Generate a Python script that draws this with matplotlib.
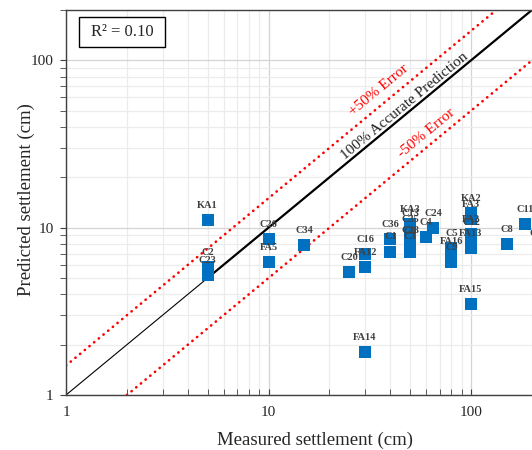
import matplotlib
matplotlib.use("Agg")
import matplotlib.pyplot as plt
import numpy as np
from matplotlib.patches import Rectangle
from matplotlib.ticker import FixedLocator, LogLocator, NullFormatter

# pile / case labels with measured and predicted settlement (cm)
names = [
    "KA1", "C2", "C23", "C26", "FA5", "C34", "C20", "C16", "FA12", "FA14",
    "C36", "C1", "KA3", "C13", "C35", "C6", "C28", "C3", "C4", "C24",
    "C5", "FA16", "C9", "KA2", "FA3", "FA2", "C12", "FA13", "FA15", "C8",
    "C11", "C10",
]
measured = [
    5, 5, 5, 10, 10, 15, 25, 30, 30, 30,
    40, 40, 50, 50, 50, 50, 50, 50, 60, 65,
    80, 80, 80, 100, 100, 100, 100, 100, 100, 150,
    185, 215,
]
predicted = [
    11.1, 5.8, 5.2, 8.5, 6.2, 7.9, 5.4, 7.0, 5.8, 1.8,
    8.6, 7.2, 10.5, 10.0, 9.2, 7.8, 7.9, 7.2, 8.8, 10.0,
    7.6, 6.8, 6.2, 12.2, 11.3, 9.2, 8.8, 7.6, 3.5, 8.0,
    10.5, 7.6,
]
r2_text = "R\u00b2 = 0.10"

serif = ["Liberation Serif", "DejaVu Serif"]
plt.rcParams["font.family"] = serif

W, H = 532, 450
fig = plt.figure(figsize=(W / 100, H / 100), dpi=100)
# axes run past the right edge, as in the cropped original
ax = fig.add_axes([66 / W, 55 / H, 607.5 / W, 385 / H])
ax.set_xscale("log")
ax.set_yscale("log")
ax.set_xlim(1, 1000)
ax.set_ylim(1, 200)

# grid
ax.grid(True, which="major", color="#d4d4d4", linewidth=0.9, zorder=0)
ax.grid(True, which="minor", color="#ececec", linewidth=0.9, zorder=0)
ax.set_axisbelow(True)

# reference lines
xx = np.array([1, 1000])
dotted = dict(color="red", linewidth=1.9, linestyle=(0, (0.1, 2.2)),
              dash_capstyle="round", zorder=2)
ax.plot([1, 5], [1, 5], color="black", linewidth=0.8, zorder=2)
ax.plot([5, 1000], [5, 1000], color="black", linewidth=1.6, zorder=2)
ax.plot(xx, 1.5 * xx, **dotted)
ax.plot(xx, 0.5 * xx, **dotted)

ang = np.degrees(np.arctan2(167.3, 202.5))
ax.text(35, 66, "+50% Error", color="red", fontsize=11, rotation=ang,
        ha="center", va="center", rotation_mode="anchor")
ax.text(47, 53.5, "100% Accurate Prediction", color="#222222", fontsize=11,
        rotation=ang, ha="center", va="center", rotation_mode="anchor")
ax.text(60.5, 36.5, "-50% Error", color="red", fontsize=11, rotation=ang,
        ha="center", va="center", rotation_mode="anchor")

# data
ax.scatter(measured, predicted, marker="s", s=74, color="#0070c0",
           linewidths=0, zorder=3, clip_on=False)
for n, mx, py in zip(names, measured, predicted):
    ax.annotate(n, (mx, py), xytext=(0, 10.5), textcoords="offset points",
                ha="center", va="center", fontsize=7.5, fontweight="bold",
                color="#404040", zorder=4)

# ticks
ax.xaxis.set_major_locator(FixedLocator([1, 10, 100]))
ax.yaxis.set_major_locator(FixedLocator([1, 10, 100]))
ax.xaxis.set_minor_locator(LogLocator(base=10, subs=np.arange(2, 10)))
ax.yaxis.set_minor_locator(LogLocator(base=10, subs=np.arange(2, 10)))
ax.xaxis.set_minor_formatter(NullFormatter())
ax.yaxis.set_minor_formatter(NullFormatter())
ax.set_xticklabels(["1", "10", "100"])
ax.set_yticklabels(["1", "10", "100"])
ax.tick_params(axis="x", which="both", direction="in", length=4,
               color="#404040", labelsize=11, labelcolor="#262626", pad=8)
ax.tick_params(axis="y", which="both", direction="out", length=4,
               color="#404040", labelsize=11, labelcolor="#262626", pad=5)
for s in ["left", "bottom", "top"]:
    ax.spines[s].set_color("#404040")
    ax.spines[s].set_linewidth(1.0)
ax.spines["right"].set_visible(False)

# axis titles
fig.text(315 / W, 1 - 440 / H, "Measured settlement (cm)", fontsize=13.5,
         color="#262626", ha="center", va="center")
fig.text(26 / W, 1 - 200 / H, "Predicted settlement (cm)", fontsize=13.5,
         color="#262626", ha="center", va="center", rotation=90)

# R^2 box
fig.patches.append(Rectangle((79 / W, 1 - 47 / H), 86 / W, 30 / H,
                             transform=fig.transFigure, facecolor="white",
                             edgecolor="black", linewidth=1.0, zorder=5))
fig.text(122 / W, 1 - 32 / H, r2_text, fontsize=12, color="#262626",
         ha="center", va="center", zorder=6)

fig.savefig("out.png", dpi=100)
